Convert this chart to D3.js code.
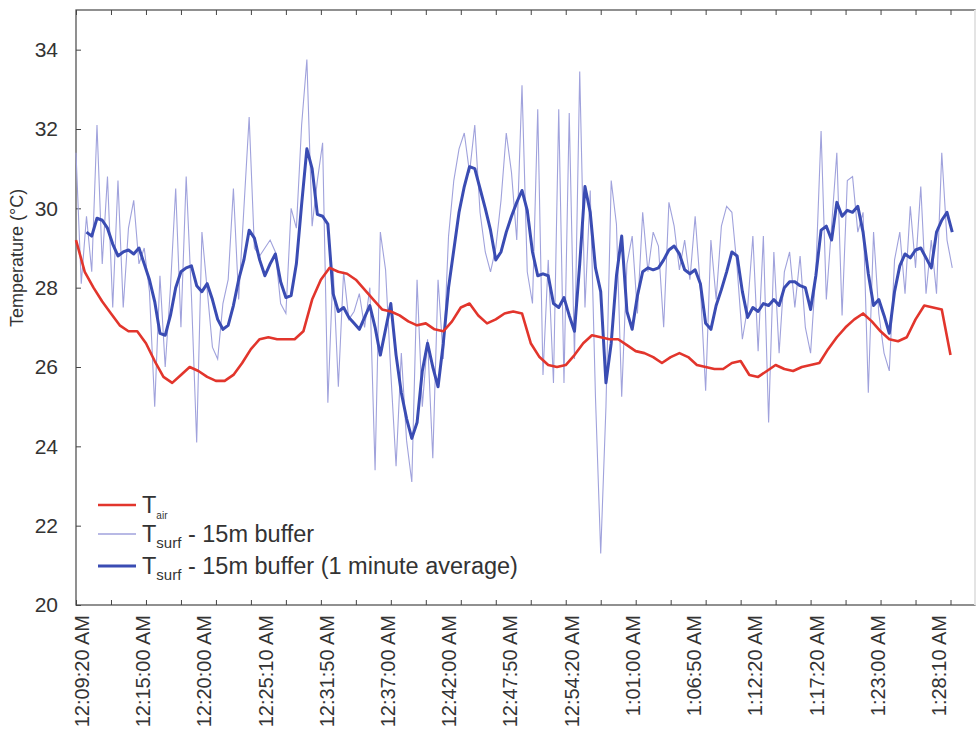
<!DOCTYPE html>
<html><head><meta charset="utf-8">
<script src="https://cdnjs.cloudflare.com/ajax/libs/d3/7.8.5/d3.min.js"></script>
<style>body{margin:0;background:#fff}svg{display:block}text{font-family:"Liberation Sans",Arial,sans-serif;fill:#333}</style>
</head><body><svg id="c" width="979" height="740"></svg>
<script>
// x axis: sample (case) index, ~10 s per case
const tickLabels = ["12:09:20 AM","12:15:00 AM","12:20:00 AM","12:25:10 AM","12:31:50 AM","12:37:00 AM","12:42:00 AM","12:47:50 AM","12:54:20 AM","1:01:00 AM","1:06:50 AM","1:12:20 AM","1:17:20 AM","1:23:00 AM","1:28:10 AM"];
const labelFirstCase = 3, labelEvery = 35, minorEvery = 20, caseMax = 514;
const yTicks = [20,22,24,26,28,30,32,34];

// T_air, one value every 5 cases from case 0
const airStep = 5, airStart = 0;
const tAir = [29.2,28.4,28.0,27.65,27.35,27.05,26.9,26.9,26.6,26.15,
 25.75,25.6,25.8,26.0,25.9,25.75,25.65,25.65,25.8,26.1,
 26.45,26.7,26.75,26.7,26.7,26.7,26.9,27.7,28.2,28.5,
 28.4,28.35,28.2,27.95,27.7,27.45,27.4,27.3,27.15,27.05,
 27.1,26.95,26.9,27.15,27.5,27.6,27.3,27.1,27.2,27.35,
 27.4,27.35,26.6,26.25,26.05,26.0,26.05,26.3,26.6,26.8,
 26.75,26.7,26.7,26.55,26.4,26.35,26.25,26.1,26.25,26.35,
 26.25,26.05,26.0,25.95,25.95,26.1,26.15,25.8,25.75,25.9,
 26.05,25.95,25.9,26.0,26.05,26.1,26.45,26.75,27.0,27.2,
 27.35,27.15,26.9,26.7,26.65,26.75,27.2,27.55,27.5,27.45,
 26.3];

// T_surf raw, one value every 3 cases from case 0
const rawStep = 3, rawStart = 0;
const tSurf = [31.4,28.1,29.8,28.4,32.1,28.6,30.8,27.5,30.7,27.5,
 29.5,30.2,28.6,29.0,27.9,25.0,28.3,26.0,28.0,30.5,
 27.0,30.8,27.8,24.1,29.4,27.95,26.5,26.2,27.6,28.2,
 30.5,27.7,30.0,32.3,29.0,28.8,29.0,29.2,28.9,27.6,
 27.35,30.0,29.5,32.1,33.75,29.55,30.7,31.65,25.1,28.5,
 25.5,28.4,27.2,27.4,27.85,27.0,28.0,23.4,29.4,28.45,
 25.85,23.5,26.35,24.15,23.1,28.2,25.0,26.7,23.7,28.2,
 26.2,29.3,30.7,31.5,31.9,30.9,32.1,29.9,28.9,28.4,
 29.0,30.2,31.9,30.9,29.2,33.1,28.4,27.6,32.5,25.8,
 28.7,25.6,32.5,25.6,32.4,26.2,33.45,27.5,30.45,25.25,
 21.3,25.0,30.7,29.6,25.25,28.6,29.3,27.35,29.9,28.4,
 29.4,29.05,27.0,30.15,29.55,28.45,29.2,28.2,29.8,28.0,
 25.4,29.2,27.7,29.55,30.05,29.9,28.5,26.7,27.5,29.3,
 26.4,29.3,24.6,28.9,26.35,28.4,28.9,27.5,28.8,27.0,
 26.35,28.4,31.95,27.7,29.55,31.4,27.3,30.7,30.8,29.4,
 29.9,25.35,29.4,27.35,26.35,25.9,28.7,29.4,27.85,30.05,
 28.5,30.55,27.85,29.2,27.85,31.4,29.2,28.5];

// T_surf 1 minute average, one value every 3 cases from case 6
const avgStep = 3, avgStart = 6;
const tSurfAvg = [29.4,29.3,29.75,29.7,29.5,29.1,28.8,28.9,28.95,28.85,
 29.0,28.6,28.2,27.65,26.85,26.8,27.3,28.0,28.4,28.5,
 28.55,28.05,27.9,28.1,27.7,27.2,26.95,27.05,27.55,28.2,
 28.7,29.45,29.25,28.7,28.3,28.6,28.85,28.15,27.75,27.8,
 28.6,30.1,31.5,31.0,29.85,29.8,29.6,27.85,27.4,27.5,
 27.25,27.1,26.95,27.25,27.55,27.0,26.3,26.95,27.6,26.3,
 25.35,24.7,24.2,24.6,25.9,26.6,26.0,25.5,26.6,28.0,
 28.95,29.9,30.55,31.05,31.0,30.5,30.0,29.45,28.7,28.9,
 29.4,29.8,30.15,30.45,29.95,28.9,28.3,28.35,28.3,27.6,
 27.5,27.75,27.3,26.9,28.6,30.55,29.9,28.5,27.9,25.6,
 26.6,28.3,29.3,27.4,26.95,27.8,28.4,28.5,28.45,28.5,
 28.7,28.95,29.05,28.85,28.45,28.35,28.45,28.1,27.1,26.95,
 27.55,27.95,28.4,28.9,28.8,27.9,27.25,27.5,27.4,27.6,
 27.55,27.7,27.55,28.0,28.15,28.15,28.05,28.0,27.45,28.3,
 29.45,29.55,29.2,30.15,29.8,29.95,29.9,30.05,29.4,28.35,
 27.55,27.7,27.3,26.85,27.9,28.55,28.85,28.75,28.95,29.0,
 28.75,28.5,29.4,29.7,29.9,29.4];

const seriesNames = ["air","surf","surf"];
const legendRest = [""," - 15m buffer"," - 15m buffer (1 minute average)"];
const colors = {air:"#e2352c", raw:"#a0a2dc", avg:"#3a4cb3"};

const svg = d3.select("#c");
const L = 76, R = 975, T = 10, B = 605;
const x = d3.scaleLinear().domain([0, caseMax]).range([L, R]);
const y = d3.scaleLinear().domain([20, 35]).range([B, T]);

const toPts = (arr, start, step) => arr.map((v,i)=>({c:start+i*step, v}));
const line = d3.line().x(d=>x(d.c)).y(d=>y(d.v));

// frame
svg.append("rect").attr("x",L).attr("y",T).attr("width",R-L).attr("height",B-T)
  .attr("fill","none").attr("stroke","#555").attr("stroke-width",1.3);
svg.append("line").attr("x1",R).attr("x2",R).attr("y1",T).attr("y2",B).attr("stroke","#e4e4e4").attr("stroke-width",2);

// minor ticks along bottom & top
const minorCases = d3.range(0, caseMax, minorEvery);
svg.append("g").attr("transform",`translate(0,${B})`)
  .call(d3.axisBottom(x).tickValues(minorCases).tickSize(-5).tickFormat(""))
  .call(g=>{g.select(".domain").remove(); g.selectAll("line").attr("stroke","#444");});
svg.append("g").attr("transform",`translate(0,${T})`)
  .call(d3.axisTop(x).tickValues(minorCases).tickSize(-5).tickFormat(""))
  .call(g=>{g.select(".domain").remove(); g.selectAll("line").attr("stroke","#444");});

// x labels
const labelCases = tickLabels.map((_,i)=>labelFirstCase+i*labelEvery);
const xl = svg.append("g").attr("transform",`translate(0,${B})`)
  .call(d3.axisBottom(x).tickValues(labelCases).tickSize(0).tickFormat((d,i)=>tickLabels[i]));
xl.select(".domain").remove();
xl.selectAll("text").attr("font-size",20).attr("fill","#333")
  .attr("transform","rotate(-90)").attr("text-anchor","end")
  .attr("x",-10).attr("y",0).attr("dy","0.36em");

// y axis
const ya = svg.append("g").attr("transform",`translate(${L},0)`)
  .call(d3.axisLeft(y).tickValues(yTicks).tickSize(-5).tickPadding(18));
ya.select(".domain").remove();
ya.selectAll("line").attr("stroke","#444");
ya.selectAll("text").attr("font-size",21).attr("fill","#333");

svg.append("text").attr("transform","translate(23,258) rotate(-90)")
  .attr("text-anchor","middle").attr("font-size",18).text("Temperature (°C)");

// series
svg.append("path").datum(toPts(tSurf, rawStart, rawStep)).attr("d",line)
  .attr("fill","none").attr("stroke",colors.raw).attr("stroke-width",1.1);
svg.append("path").datum(toPts(tSurfAvg, avgStart, avgStep)).attr("d",line)
  .attr("fill","none").attr("stroke",colors.avg).attr("stroke-width",3).attr("stroke-linejoin","round");
svg.append("path").datum(toPts(tAir, airStart, airStep)).attr("d",line)
  .attr("fill","none").attr("stroke",colors.air).attr("stroke-width",2.6).attr("stroke-linejoin","round");

// legend
const legColors = [colors.air, colors.raw, colors.avg];
const legW = [2.6, 1.3, 3];
const legY = [505, 534, 566];
legColors.forEach((c,i)=>{
  svg.append("line").attr("x1",98).attr("x2",136).attr("y1",legY[i]).attr("y2",legY[i])
    .attr("stroke",c).attr("stroke-width",legW[i]);
  const t = svg.append("text").attr("x",142).attr("y",legY[i]+8).attr("font-size",23.5);
  t.append("tspan").text("T");
  t.append("tspan").attr("dy",6).attr("font-size", i===0?10:15).text(seriesNames[i]);
  if (legendRest[i]) t.append("tspan").attr("dy",-6).text(legendRest[i]);
});
</script></body></html>
